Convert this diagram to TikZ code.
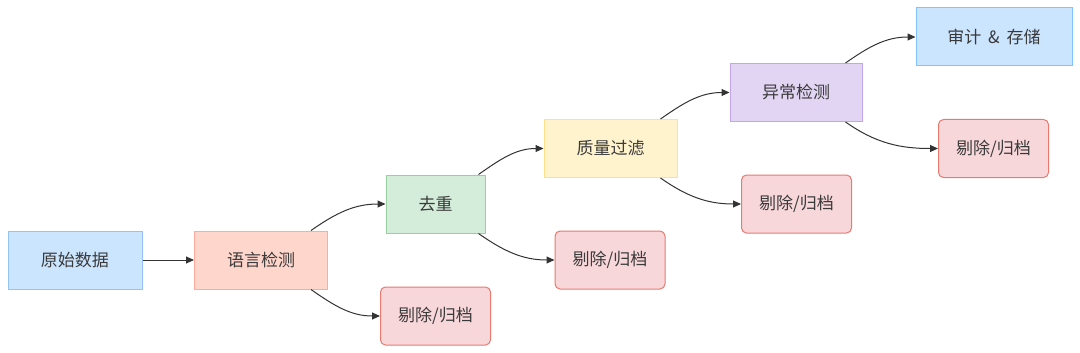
\documentclass[tikz,border=0pt]{standalone}
\usepackage{fontspec}
\setmainfont{Noto Sans CJK SC}
\usetikzlibrary{arrows.meta}
\definecolor{txt}{HTML}{3A3A3A}
\definecolor{edge}{HTML}{333333}
\tikzset{
  box/.style={draw, line width=1pt, minimum width=#1, minimum height=58pt, inner sep=0pt, text=txt, font=\fontsize{17pt}{20pt}\selectfont},
  bluebox/.style={box=#1, fill={rgb,255:red,204;green,229;blue,255}, draw={rgb,255:red,150;green,195;blue,245}},
  salmonbox/.style={box=#1, fill={rgb,255:red,255;green,214;blue,204}, draw={rgb,255:red,255;green,170;blue,155}},
  greenbox/.style={box=#1, fill={rgb,255:red,212;green,237;blue,218}, draw={rgb,255:red,150;green,210;blue,160}},
  yellowbox/.style={box=#1, fill={rgb,255:red,255;green,243;blue,205}, draw={rgb,255:red,255;green,225;blue,140}},
  purplebox/.style={box=#1, fill={rgb,255:red,226;green,213;blue,243}, draw={rgb,255:red,195;green,165;blue,235}},
  auditbox/.style={box=#1, fill={rgb,255:red,204;green,229;blue,255}, draw={rgb,255:red,128;green,195;blue,255}},
  rejbox/.style={box=110pt, rounded corners=5pt, fill={rgb,255:red,248;green,215;blue,218}, draw={rgb,255:red,232;green,122;blue,112}},
  conn/.style={draw=edge, line width=1pt, -{Triangle[length=8pt,width=7pt]}},
}
\begin{document}
\begin{tikzpicture}[x=1pt,y=-1pt]
\useasboundingbox (0,0) rectangle (1080,353);
\node[bluebox=134pt] (raw) at (75,260) {原始数据};
\node[salmonbox=133pt] (lang) at (261,260) {语言检测};
\node[rejbox] (r1) at (435.5,316) {剔除/归档};
\node[greenbox=99pt] (dedup) at (435.5,204) {去重};
\node[rejbox] (r2) at (610,260) {剔除/归档};
\node[yellowbox=133pt] (qual) at (610.5,148.5) {质量过滤};
\node[rejbox] (r3) at (796.5,204) {剔除/归档};
\node[purplebox=132pt] (anom) at (796,92.5) {异常检测};
\node[rejbox] (r4) at (993.5,148.5) {剔除/归档};
\node[auditbox=156pt] (audit) at (994,37) {审计\hspace{0.4em}\&\hspace{0.4em}存储};

\draw[conn] (raw.east) -- (lang.west);
\draw[conn] ([xshift=-17pt]lang.north east) to[out=35,in=180] (dedup.west);
\draw[conn] ([xshift=-17pt]lang.south east) to[out=-35,in=180] (r1.west);
\draw[conn] ([xshift=-7pt]dedup.north east) to[out=35,in=180] (qual.west);
\draw[conn] ([xshift=-7pt]dedup.south east) to[out=-35,in=180] (r2.west);
\draw[conn] ([xshift=-17pt]qual.north east) to[out=35,in=180] (anom.west);
\draw[conn] ([xshift=-17pt]qual.south east) to[out=-35,in=180] (r3.west);
\draw[conn] ([xshift=-17pt]anom.north east) to[out=35,in=180] (audit.west);
\draw[conn] ([xshift=-17pt]anom.south east) to[out=-35,in=180] (r4.west);
\end{tikzpicture}
\end{document}
